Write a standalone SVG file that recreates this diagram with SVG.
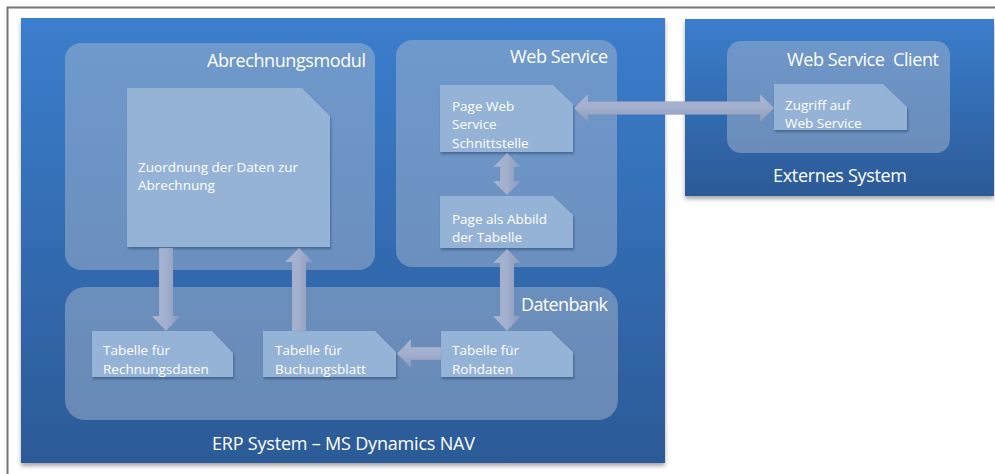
<svg xmlns="http://www.w3.org/2000/svg" width="995" height="474" viewBox="0 0 995 474">
<style>
.panel{fill:url(#panelGrad);filter:url(#shadow)}
.group{fill:#a3b6cd;fill-opacity:0.5}
.doc{fill:#95b3d7;filter:url(#docShadow)}
.varrow{fill:url(#vArrowGrad);stroke:#7f8fb3;stroke-width:0.5;stroke-opacity:0.5}
.harrow{fill:url(#hArrowGrad);stroke:#7f8fb3;stroke-width:0.5;stroke-opacity:0.5}
.title{font-family:"Open Sans","Noto Sans",sans-serif;font-size:18px;fill:#ffffff}
.label{font-family:"Open Sans","Noto Sans",sans-serif;font-size:13.5px;fill:#ffffff}
</style>
<defs>
<linearGradient id="panelGrad" x1="0" y1="0" x2="0" y2="1">
<stop offset="0" stop-color="#3b7ecd"/>
<stop offset="1" stop-color="#2c5a97"/>
</linearGradient>
<linearGradient id="vArrowGrad" x1="0" y1="0" x2="1" y2="0">
<stop offset="0" stop-color="#aab6d2"/>
<stop offset="0.5" stop-color="#a2afcd"/>
<stop offset="1" stop-color="#8a99bd"/>
</linearGradient>
<linearGradient id="hArrowGrad" x1="0" y1="0" x2="0" y2="1">
<stop offset="0" stop-color="#aab6d2"/>
<stop offset="0.5" stop-color="#a2afcd"/>
<stop offset="1" stop-color="#8a99bd"/>
</linearGradient>
<filter id="shadow" x="-5%" y="-5%" width="110%" height="115%">
<feDropShadow dx="0" dy="3" stdDeviation="2" flood-color="#000" flood-opacity="0.35"/>
</filter>
<filter id="docShadow" x="-10%" y="-10%" width="120%" height="130%">
<feDropShadow dx="1" dy="2" stdDeviation="1.2" flood-color="#1d3557" flood-opacity="0.45"/>
</filter>
</defs>
<rect width="995" height="474" fill="#ffffff"/>
<path d="M7.5,474 V7.5 H995" fill="none" stroke="#757575" stroke-width="2"/>

<g id="erp-system">
<rect class="panel" x="21" y="18" width="644" height="445"/>
<text class="title" x="343.5" y="450" text-anchor="middle" textLength="263">ERP System – MS Dynamics NAV</text>
</g>
<g id="externes-system">
<rect class="panel" x="685" y="19" width="309" height="177"/>
<text class="title" x="840" y="182" text-anchor="middle" textLength="134">Externes System</text>
</g>

<g id="abrechnungsmodul">
<rect class="group" x="65" y="43" width="310" height="227" rx="16"/>
<text class="title" x="366" y="67" text-anchor="end" textLength="159">Abrechnungsmodul</text>
</g>
<g id="web-service">
<rect class="group" x="396" y="40" width="221" height="227" rx="16"/>
<text class="title" x="608" y="63" text-anchor="end" textLength="98">Web Service</text>
</g>
<g id="datenbank">
<rect class="group" x="65" y="287" width="553" height="133" rx="20"/>
<text class="title" x="608" y="311" text-anchor="end" textLength="87">Datenbank</text>
</g>
<g id="web-service-client">
<rect class="group" x="727" y="41" width="223" height="112" rx="14"/>
<text class="title" x="939" y="66" text-anchor="end" textLength="152" xml:space="preserve">Web Service  Client</text>
</g>

<g id="zuordnung">
<path class="doc" d="M127,88 H302 L330,116 V247 H127 Z"/>
<text class="label" x="138" y="172">Zuordnung der Daten zur</text>
<text class="label" x="138" y="190">Abrechnung</text>
</g>
<g id="page-web-service">
<path class="doc" d="M440,85 H553 L573,104 V152 H440 Z"/>
<text class="label" x="452" y="111">Page Web</text>
<text class="label" x="452" y="129">Service</text>
<text class="label" x="452" y="148">Schnittstelle</text>
</g>
<g id="page-abbild">
<path class="doc" d="M440,196 H553 L573,215 V248 H440 Z"/>
<text class="label" x="452" y="224">Page als Abbild</text>
<text class="label" x="452" y="242">der Tabelle</text>
</g>
<g id="zugriff">
<path class="doc" d="M774,84 H883 L907,107 V130 H774 Z"/>
<text class="label" x="785" y="110">Zugriff auf</text>
<text class="label" x="785" y="128">Web Service</text>
</g>
<g id="rechnungsdaten">
<path class="doc" d="M92,331 H212 L233,353 V377 H92 Z"/>
<text class="label" x="103" y="355">Tabelle für</text>
<text class="label" x="103" y="374">Rechnungsdaten</text>
</g>
<g id="buchungsblatt">
<path class="doc" d="M263,331 H375 L396,352 V377 H263 Z"/>
<text class="label" x="275" y="355">Tabelle für</text>
<text class="label" x="275" y="374">Buchungsblatt</text>
</g>
<g id="rohdaten">
<path class="doc" d="M441,331 H551 L573,352 V377 H441 Z"/>
<text class="label" x="452" y="355">Tabelle für</text>
<text class="label" x="452" y="374">Rohdaten</text>
</g>

<g id="connectors">
<path class="varrow" d="M159,248 H173 V316 H180 L166,331 L152,316 H159 Z"/>
<path class="varrow" d="M292,331 V262 H285 L299,248 L313,262 H306 V331 Z"/>
<path class="varrow" d="M507,249 L521,263 H514 V316 H521 L507,331 L493,316 H500 V263 H493 Z"/>
<path class="varrow" d="M507,153 L521,167 H514 V181 H521 L507,195 L493,181 H500 V167 H493 Z"/>
<path class="harrow" d="M441,347 V360 H411 V368 L397,353.5 L411,339 V347 Z"/>
<path class="harrow" d="M574,108 L588,94 V101.5 H760 V94 L774,108 L760,122 V114.5 H588 V122 Z"/>
</g>
</svg>
